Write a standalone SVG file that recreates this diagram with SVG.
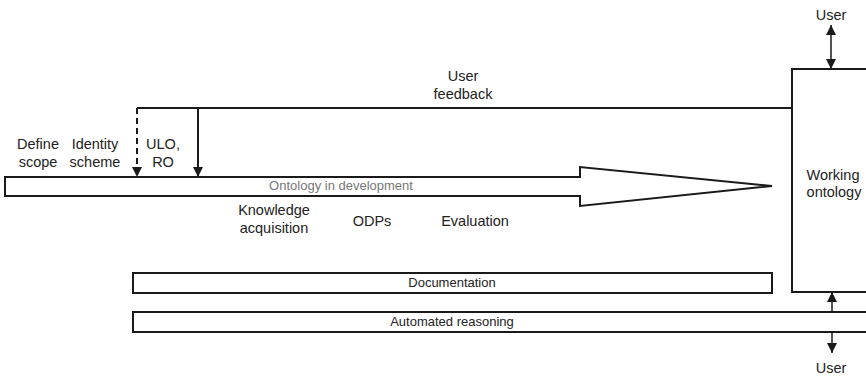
<svg xmlns="http://www.w3.org/2000/svg" width="866" height="376" viewBox="0 0 866 376">
<defs>
<marker id="ah" viewBox="0 0 10 10" refX="10" refY="5" markerWidth="10" markerHeight="10" markerUnits="userSpaceOnUse" orient="auto-start-reverse">
<path d="M0,0 L10,5 L0,10 z" fill="#1a1a1a"/>
</marker>
<marker id="ah2" viewBox="0 0 10 10" refX="10" refY="5" markerWidth="12" markerHeight="10" markerUnits="userSpaceOnUse" orient="auto">
<path d="M0,0 L10,5 L0,10 z" fill="#1a1a1a"/>
</marker>
</defs>
<style>
text{font-family:"Liberation Sans",Arial,sans-serif;font-size:14.5px;fill:#222;text-anchor:middle}
.sm{font-size:13px}
.grey{fill:#777;font-size:13px}
.box{fill:#fff;stroke:#1a1a1a;stroke-width:2}
.ln{fill:none;stroke:#1a1a1a;stroke-width:2}
</style>
<rect width="866" height="376" fill="#fff"/>
<g id="working-ontology">
<rect class="box" x="792" y="69" width="80" height="223"/>
<text x="833" y="180">Working</text>
<text x="834" y="197">ontology</text>
</g>
<g id="ontology-in-development">
<path class="box" d="M5,177 L580,177 L580,167 L772,186 L580,206 L580,196 L5,196 Z"/>
<text class="grey" x="341" y="190">Ontology in development</text>
</g>
<g id="documentation">
<rect class="box" x="133" y="273" width="639" height="20"/>
<text class="sm" x="452" y="287">Documentation</text>
</g>
<g id="automated-reasoning">
<rect class="box" x="133" y="312" width="745" height="20"/>
<text class="sm" x="452" y="326">Automated reasoning</text>
</g>
<g id="labels">
<text x="38" y="149">Define</text>
<text x="38" y="167">scope</text>
<text x="95" y="149">Identity</text>
<text x="95" y="167">scheme</text>
<text x="163" y="149">ULO,</text>
<text x="163" y="167">RO</text>
<text x="463" y="81">User</text>
<text x="463" y="99">feedback</text>
<text x="274" y="215">Knowledge</text>
<text x="274" y="233">acquisition</text>
<text x="372" y="226">ODPs</text>
<text x="475" y="226">Evaluation</text>
<text x="831" y="20">User</text>
<text x="831" y="373">User</text>
</g>
<g id="connectors">
<path class="ln" d="M792,108 L137,108"/>
<path class="ln" d="M137,108 L137,177" stroke-dasharray="6,4" marker-end="url(#ah2)"/>
<path class="ln" d="M198,108 L198,177" marker-end="url(#ah2)"/>
<path d="M831,25 L831,69" fill="none" stroke="#1a1a1a" stroke-width="1.5" marker-start="url(#ah)" marker-end="url(#ah)"/>
<path d="M832,312 L832,292" fill="none" stroke="#1a1a1a" stroke-width="1.5" marker-end="url(#ah)"/>
<path d="M832,332 L832,353" fill="none" stroke="#1a1a1a" stroke-width="1.5" marker-end="url(#ah)"/>
</g>
</svg>
